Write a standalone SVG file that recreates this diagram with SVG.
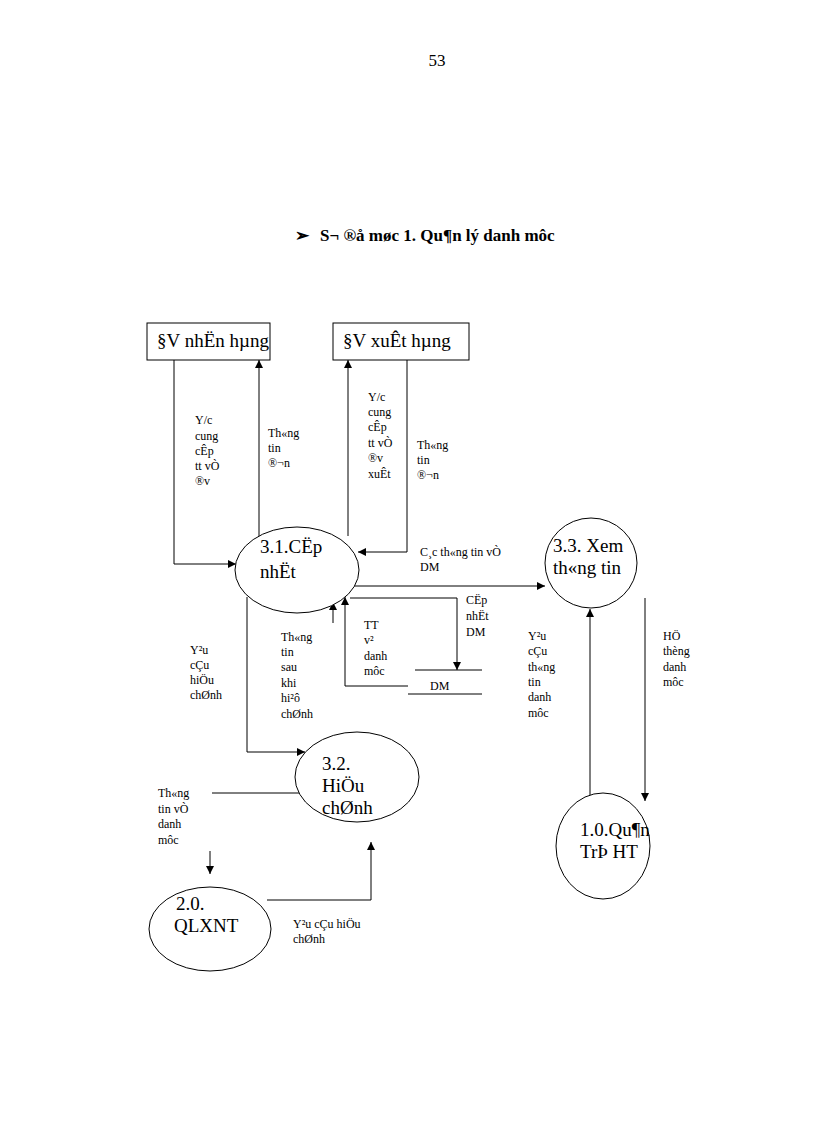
<svg xmlns="http://www.w3.org/2000/svg" width="816" height="1123" viewBox="0 0 816 1123">
<style>
text{font-family:"Liberation Serif","Times New Roman",serif;fill:#000}
.s{font-size:12px}
.n{font-size:19px}
.shape{fill:#fff;stroke:#000;stroke-width:1}
.c{fill:none;stroke:#000;stroke-width:1}
</style>
<defs>
<marker id="a" viewBox="0 0 10 10" refX="10" refY="5" markerWidth="8" markerHeight="8" orient="auto" markerUnits="userSpaceOnUse"><path d="M0,0L10,5L0,10z" fill="#000"/></marker>
</defs>
<rect width="816" height="1123" fill="#fff"/>
<text x="437" y="66" font-size="17" text-anchor="middle">53</text>
<text x="295" y="241" font-size="17" font-weight="bold">➢</text>
<text x="320" y="241" font-size="17" font-weight="bold">S¬ ®å møc 1. Qu¶n lý danh môc</text>

<g id="connectors">
<path class="c" d="M174,360V564H236" marker-end="url(#a)"/>
<path class="c" d="M259,537V360" marker-end="url(#a)"/>
<path class="c" d="M348,536V360" marker-end="url(#a)"/>
<path class="c" d="M407,360V552H358" marker-end="url(#a)"/>
<path class="c" d="M352,586H545" marker-end="url(#a)"/>
<path class="c" d="M350,598H457V670" marker-end="url(#a)"/>
<path class="c" d="M408,686H345V597" marker-end="url(#a)"/>
<path class="c" d="M333,623V602" marker-end="url(#a)"/>
<path class="c" d="M247,597V752H305" marker-end="url(#a)"/>
<path class="c" d="M212,793H303"/>
<path class="c" d="M210,851V874" marker-end="url(#a)"/>
<path class="c" d="M267,900H371V842" marker-end="url(#a)"/>
<path class="c" d="M590,800V609" marker-end="url(#a)"/>
<path class="c" d="M645,598V801" marker-end="url(#a)"/>
</g>

<g id="ext1"><rect class="shape" x="147" y="323" width="123" height="37"/><text class="n" x="157" y="347">§V nhËn hµng</text></g>
<g id="ext2"><rect class="shape" x="333" y="323" width="136" height="37"/><text class="n" x="343" y="347">§V xuÊt hµng</text></g>

<g id="store-dm"><path class="c" d="M415,670H482M408,694H482"/><text class="s" x="430" y="690">DM</text></g>

<g id="p31"><ellipse class="shape" cx="297" cy="570" rx="62" ry="43"/><text class="n" x="260" y="553">3.1.CËp</text><text class="n" x="260" y="578">nhËt</text></g>
<g id="p33"><ellipse class="shape" cx="591" cy="563" rx="46" ry="45"/><text class="n" x="553" y="552">3.3. Xem</text><text class="n" x="553" y="574">th«ng tin</text></g>
<g id="p32"><ellipse class="shape" cx="357" cy="777" rx="62" ry="45"/><text class="n" x="322" y="770">3.2.</text><text class="n" x="322" y="792">HiÖu</text><text class="n" x="322" y="814">chØnh</text></g>
<g id="p10"><ellipse class="shape" cx="603" cy="846" rx="47" ry="53"/><text class="n" x="580" y="836">1.0.Qu¶n</text><text class="n" x="580" y="858">TrÞ HT</text></g>
<g id="p20"><ellipse class="shape" cx="210" cy="929" rx="61" ry="42"/><text class="n" x="176" y="910">2.0.</text><text class="n" x="174" y="932">QLXNT</text></g>

<g id="labels">
<text class="s" x="195" y="424">Y/c</text><text class="s" x="195" y="440">cung</text><text class="s" x="195" y="455">cÊp</text><text class="s" x="195" y="470">tt vÒ</text><text class="s" x="195" y="485">®v</text>
<text class="s" x="268" y="437">Th«ng</text><text class="s" x="268" y="452">tin</text><text class="s" x="268" y="467">®¬n</text>
<text class="s" x="368" y="401">Y/c</text><text class="s" x="368" y="416">cung</text><text class="s" x="368" y="431">cÊp</text><text class="s" x="368" y="447">tt vÒ</text><text class="s" x="368" y="462">®v</text><text class="s" x="368" y="478">xuÊt</text>
<text class="s" x="417" y="449">Th«ng</text><text class="s" x="417" y="464">tin</text><text class="s" x="417" y="479">®¬n</text>
<text class="s" x="420" y="556">C¸c th«ng tin vÒ</text><text class="s" x="420" y="571">DM</text>
<text class="s" x="466" y="604">CËp</text><text class="s" x="466" y="620">nhËt</text><text class="s" x="466" y="636">DM</text>
<text class="s" x="364" y="629">TT</text><text class="s" x="364" y="644">v²</text><text class="s" x="364" y="660">danh</text><text class="s" x="364" y="675">môc</text>
<text class="s" x="281" y="641">Th«ng</text><text class="s" x="281" y="656">tin</text><text class="s" x="281" y="671">sau</text><text class="s" x="281" y="687">khi</text><text class="s" x="281" y="702">hi²ô</text><text class="s" x="281" y="718">chØnh</text>
<text class="s" x="190" y="654">Y²u</text><text class="s" x="190" y="669">cÇu</text><text class="s" x="190" y="684">hiÖu</text><text class="s" x="190" y="699">chØnh</text>
<text class="s" x="528" y="640">Y²u</text><text class="s" x="528" y="655">cÇu</text><text class="s" x="528" y="671">th«ng</text><text class="s" x="528" y="686">tin</text><text class="s" x="528" y="701">danh</text><text class="s" x="528" y="717">môc</text>
<text class="s" x="663" y="640">HÖ</text><text class="s" x="663" y="655">thèng</text><text class="s" x="663" y="671">danh</text><text class="s" x="663" y="686">môc</text>
<text class="s" x="158" y="797">Th«ng</text><text class="s" x="158" y="813">tin vÒ</text><text class="s" x="158" y="828">danh</text><text class="s" x="158" y="844">môc</text>
<text class="s" x="293" y="928">Y²u cÇu hiÖu</text><text class="s" x="293" y="943">chØnh</text>
</g>
</svg>
